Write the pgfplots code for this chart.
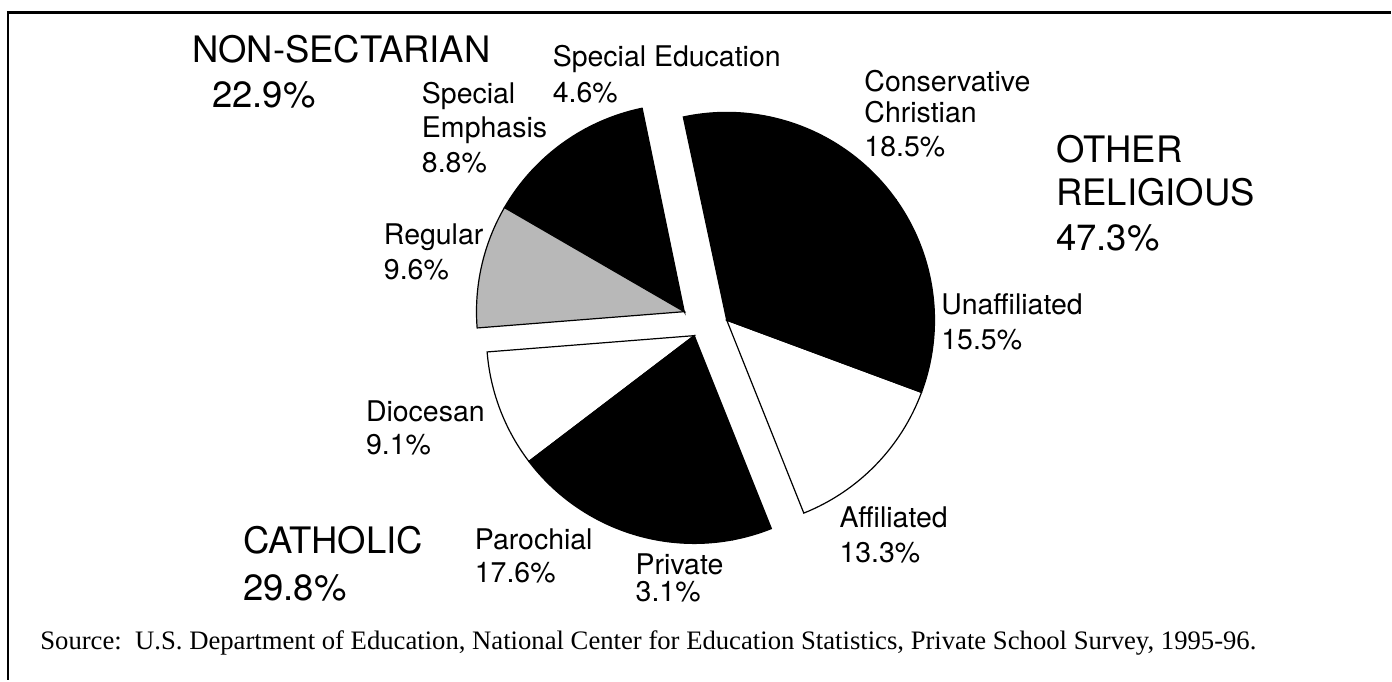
\documentclass[border=0pt]{standalone}
\usepackage{pgfplots}
\pgfplotsset{compat=1.18}
\usepackage{fontspec}
\setmainfont{TeX Gyre Heros}
\newfontfamily\srcfont{Liberation Serif}

% shares in percent, counter-clockwise from the top gap
\def\startang{101.7}
\pgfmathsetmacro\aA{\startang}        % Special Education
\pgfmathsetmacro\aB{\aA+3.6*4.6}      % Special Emphasis
\pgfmathsetmacro\aC{\aB+3.6*8.8}      % Regular
\pgfmathsetmacro\aD{\aC+3.6*9.6}      % Diocesan
\pgfmathsetmacro\aE{\aD+3.6*9.1}      % Parochial
\pgfmathsetmacro\aF{\aE+3.6*17.6}     % Private
\pgfmathsetmacro\aG{\aF+3.6*3.1}      % Affiliated
\pgfmathsetmacro\aH{\aG+3.6*13.3}     % Unaffiliated
\pgfmathsetmacro\aI{\aH+3.6*15.5}     % Conservative Christian
\pgfmathsetmacro\aJ{\aI+3.6*18.5}

\newcommand{\slice}[5]{%
  \filldraw[line width=0.6pt,draw=black,#5] (axis cs:#1,#2) -- ++(#3:104pt)
    arc[start angle=#3, end angle=#4, radius=104pt] -- cycle;}
\newcommand{\sm}{\fontsize{14.25}{17}\selectfont}
\newcommand{\bg}{\fontsize{18.25}{22}\selectfont}
\newcommand{\lab}[4]{\node[anchor=base west,inner sep=0pt,font=#3] at (axis cs:#1,#2) {#4};}

\begin{document}
\begin{tikzpicture}
\begin{axis}[
  width=696pt, height=340.5pt, scale only axis,
  xmin=0, xmax=1392, ymin=0, ymax=681,
  hide axis, clip=false]
\path (axis cs:0,0) rectangle (axis cs:1392,681);
% frame
\draw[line width=1.5pt] (axis cs:7,668) -- (axis cs:1392,668);
\draw[line width=1.1pt] (axis cs:8,668) -- (axis cs:8,0);

% non-sectarian
\slice{685}{369}{\aA}{\aB}{fill=black}
\slice{685}{369}{\aB}{\aC}{fill=black}
\slice{685}{369}{\aC}{\aD}{fill=black!28}
% catholic
\slice{695}{345}{\aD}{\aE}{fill=white}
\slice{695}{345}{\aE}{\aF}{fill=black}
\slice{695}{345}{\aF}{\aG}{fill=black}
% other religious
\slice{727.5}{360.5}{\aG}{\aH}{fill=white}
\slice{727.5}{360.5}{\aH}{\aI}{fill=black}
\slice{727.5}{360.5}{\aI}{\aJ}{fill=black}

% labels
\lab{192}{618}{\bg}{NON-SECTARIAN}
\lab{212}{573}{\bg}{22.9\%}
\lab{553}{614}{\sm}{Special Education}
\lab{553}{578}{\sm}{4.6\%}
\lab{422}{577}{\sm}{Special}
\lab{422}{543}{\sm}{Emphasis}
\lab{422}{508}{\sm}{8.8\%}
\lab{865}{589}{\sm}{Conservative}
\lab{865}{558}{\sm}{Christian}
\lab{865}{524}{\sm}{18.5\%}
\lab{1057}{518}{\bg}{OTHER}
\lab{1057}{475}{\bg}{RELIGIOUS}
\lab{1057}{430}{\bg}{47.3\%}
\lab{384}{436}{\sm}{Regular}
\lab{384}{401}{\sm}{9.6\%}
\lab{942}{366}{\sm}{Unaffiliated}
\lab{942}{331}{\sm}{15.5\%}
\lab{366}{259}{\sm}{Diocesan}
\lab{366}{226}{\sm}{9.1\%}
\lab{243}{127}{\bg}{CATHOLIC}
\lab{243}{80}{\bg}{29.8\%}
\lab{475}{131}{\sm}{Parochial}
\lab{475}{98}{\sm}{17.6\%}
\lab{636}{106}{\sm}{Private}
\lab{636}{79}{\sm}{3.1\%}
\lab{840}{153}{\sm}{Affiliated}
\lab{840}{118}{\sm}{13.3\%}
\lab{40}{31}{\srcfont\fontsize{13.35}{16}\selectfont}{Source:\ \ U.S. Department of Education, National Center for Education Statistics, Private School Survey, 1995-96.}
\end{axis}
\end{tikzpicture}
\end{document}
